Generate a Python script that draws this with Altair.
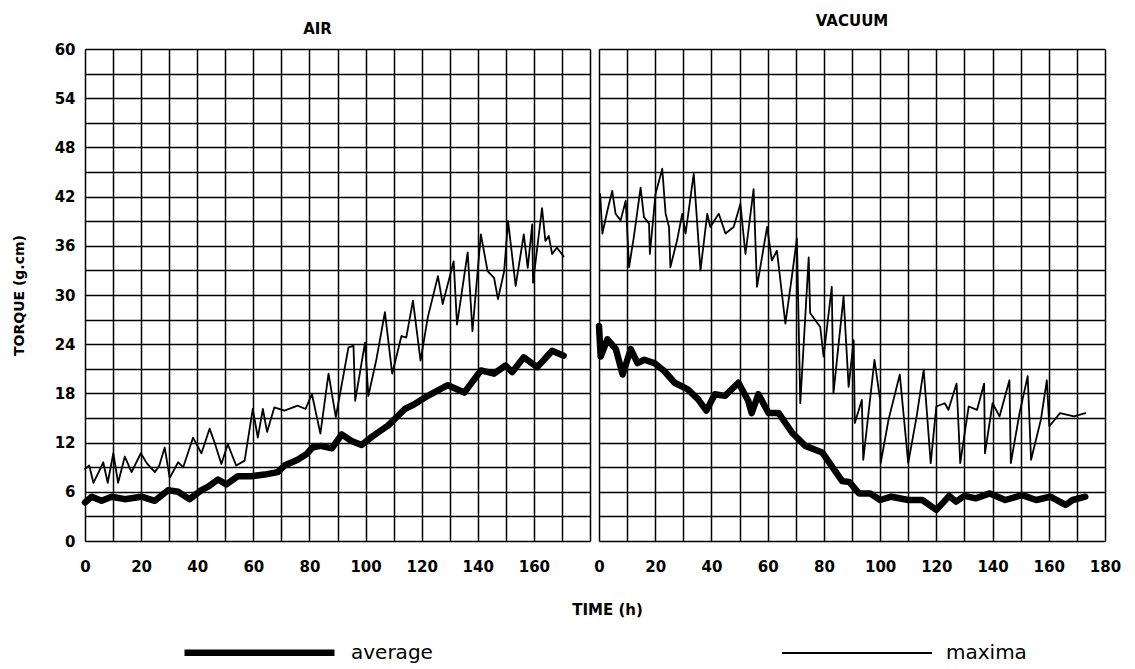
import altair as alt
import pandas as pd

# ---------------- data ----------------
air_max_t = [0, 1.5, 3.0, 5, 6.5, 8.1, 10.1, 11.8, 14.2, 16.6, 19.9, 22, 24.9, 26.5, 28.4, 30.2,
             33.2, 35.0, 38.5, 41.5, 44.4, 46.2, 48.6, 50.9, 53.9, 56.9, 59.8, 61.6, 63.4, 64.9,
             67.5, 71.1, 75.8, 78.6, 80.9, 83.9, 86.8, 89.4, 93.9, 95.7, 96.3, 99.8, 101, 103.9,
             106.9, 109.5, 112.8, 114.5, 116.9, 119.6, 122.2, 125.8, 127.5, 131.4, 132.6, 136.4,
             138.1, 141.1, 143.5, 145.8, 147.2, 149.4, 150.8, 153.5, 156.4, 157.8, 159.4, 159.7,
             162.9, 164.1, 165.3, 166.5, 168.2, 170.6]
air_max_v = [8.8, 9.2, 7.1, 8.5, 9.6, 7.1, 10.7, 7.1, 10.3, 8.4, 10.7, 9.5, 8.4, 9.2, 11.4, 7.7,
             9.6, 9.0, 12.6, 10.7, 13.7, 12.0, 9.4, 11.8, 9.2, 9.8, 16.1, 12.6, 16.1, 13.3,
             16.3, 15.9, 16.5, 16.1, 17.9, 13.1, 20.4, 15.1, 23.6, 23.8, 17.1, 24.2, 17.7, 22.2,
             27.9, 20.4, 25.0, 24.8, 29.3, 22.0, 27.3, 32.3, 28.9, 34.1, 26.4, 35.2,
             25.6, 37.4, 32.9, 32.1, 29.5, 32.9, 39.0, 31.1, 37.4, 33.3, 38.6, 31.5,
             40.6, 36.6, 37.2, 35.0, 35.8, 34.7]

air_avg_t = [0, 2.4, 5.9, 9.5, 14.2, 20.1, 24.9, 29.6, 33.2, 37.3, 41.5, 43.8, 47.4, 50.4, 54.5,
             59.2, 64.0, 68.7, 71.1, 75.8, 79, 81, 84, 88, 91.5, 95, 98.6, 102.2, 108.1, 114,
             117.5, 122.2, 129.3, 135.2, 141.1, 145.8, 149.9, 152.3, 156.4, 161.2, 166.5, 170.6]
air_avg_v = [4.7, 5.4, 4.9, 5.4, 5.1, 5.4, 4.9, 6.2, 6.0, 5.1, 6.2, 6.6, 7.5, 6.9, 7.9,
             7.9, 8.1, 8.4, 9.2, 9.9, 10.6, 11.4, 11.6, 11.3, 13.0, 12.2, 11.7, 12.7, 14.1, 16.1,
             16.7, 17.7, 19.0, 18.1, 20.8, 20.4, 21.4, 20.6, 22.4, 21.2, 23.2, 22.6]

vac_max_t = [0.4, 1.2, 3.0, 4.7, 5.9, 7.7, 9.5, 10.7, 12.4, 14.8, 16.0, 17.8, 18.1, 20.1, 22.5,
             23.7, 24.9, 25.4, 27.8, 29.6, 30.8, 33.7, 36.1, 38.5, 39.6, 42.6, 45.0, 47.9, 50.3,
             52.1, 55.0, 56.2, 59.8, 61.5, 63.3, 66.3, 68.6, 70.4, 71.6, 74.6, 75.1, 78.7, 79.9,
             82.8, 83.4, 87.0, 88.8, 90.6, 91, 93.5, 94, 98, 100, 100.2, 103, 107, 110, 113,
             115.5, 118, 120, 123, 124.3, 127.2, 128.5, 131.5, 134.5, 137, 137.3, 140, 142.5,
             146, 146.5, 149.6, 152.5, 153.7, 157.2, 159.3, 160.2, 164, 169, 173]
vac_max_v = [42.3, 37.5, 40.3, 42.7, 39.9, 39.1, 41.5, 33.4, 37.1, 43.1, 39.5, 38.7, 35.0, 42.3, 45.4,
             39.9, 38.3, 33.4, 36.7, 39.9, 37.5, 44.8, 33.0, 39.9, 38.3, 39.9, 37.5, 38.3, 41.1,
             35.0, 42.9, 31.0, 38.3, 34.2, 35.4, 26.5, 32.2, 36.9, 16.8, 34.6, 27.8, 26.1, 22.5,
             31.0, 18.0, 29.8, 18.8, 24.5, 14.4, 17.2, 9.9, 22.1, 17.2, 9.5, 14.8, 20.3, 9.5, 15.2,
             20.9, 9.5, 16.4, 16.8, 16.0, 19.2, 9.5, 16.4, 16.0, 19.2, 10.7, 16.8, 15.2,
             19.6, 9.5, 15.6, 20.1, 9.9, 14.8, 19.6, 14.0, 15.6, 15.2, 15.6]

vac_avg_t = [0, 0.6, 3.0, 6.0, 8.4, 11.3, 13.7, 16.1, 19.7, 23.3, 26.9, 31.6, 35.2, 38.2, 41.2,
             44.8, 49.6, 53.1, 54.3, 56.7, 60.3, 63.9, 68.7, 73.4, 79.4, 86.5, 89, 92.5, 96.5,
             100, 104, 110, 115, 120, 124.6, 127, 130, 134, 139, 144.5, 150.5, 155.5, 160.5,
             166, 168.5, 173]
vac_avg_v = [26.2, 22.5, 24.6, 23.4, 20.3, 23.4, 21.7, 22.1, 21.7, 20.7, 19.3, 18.5, 17.3, 15.9, 17.9,
             17.7, 19.3, 17.1, 15.6, 17.9, 15.6, 15.6, 13.2, 11.6, 10.8, 7.3, 7.2, 5.8, 5.8,
             5.0, 5.4, 5.0, 5.0, 3.8, 5.5, 4.8, 5.5, 5.2, 5.8, 5.0, 5.6, 5.0, 5.4,
             4.4, 5.0, 5.4]

panels = ["AIR", "VACUUM"]
series = ["average", "maxima"]
x_ticks = list(range(0, 181, 10))
y_ticks = list(range(0, 61, 3))


def frame(t, v, s, p):
    return pd.DataFrame({"time": t, "torque": v, "series": s, "panel": p})


air_df = pd.concat([frame(air_avg_t, air_avg_v, "average", "AIR"),
                    frame(air_max_t, air_max_v, "maxima", "AIR")])
vac_df = pd.concat([frame(vac_avg_t, vac_avg_v, "average", "VACUUM"),
                    frame(vac_max_t, vac_max_v, "maxima", "VACUUM")])

FONT = "DejaVu Sans"
W_L, W_R, H = 505, 506, 492

sw_scale = alt.Scale(domain=series, range=[6.5, 1.8])
# long horizontal stroke symbol (path scaled by sqrt(size)/2)
legend = alt.Legend(
    orient="none", legendX=156, legendY=585, direction="horizontal", title=None,
    symbolType="M-5,0H5", symbolSize=900, symbolStrokeColor="black",
    symbolFillColor="transparent",
    labelFont=FONT, labelFontSize=20, labelColor="black", labelOffset=73,
    columnPadding=345,
)


def panel(df, title, title_offset, title_dx, left):
    xaxis = alt.Axis(
        values=x_ticks,
        labelExpr=("datum.value % 20 == 0 && datum.value <= 160 ? datum.label : ''" if left
                   else "datum.value % 20 == 0 ? datum.label : ''"),
        grid=True, gridColor="black", gridWidth=1.5, gridOpacity=1,
        ticks=False, tickSize=0, domain=False,
        labelFont=FONT, labelFontSize=15, labelFontWeight="bold", labelColor="black",
        labelPadding=18, labelFlush=False,
        title=("TIME (h)" if left else None),
        **({"titleX": 522, "titleY": 68, "titleAlign": "center", "titleBaseline": "middle",
            "titleFont": FONT, "titleFontSize": 15, "titleFontWeight": "bold",
            "titleColor": "black"} if left else {}),
    )
    yaxis = alt.Axis(
        values=y_ticks,
        labelExpr="datum.value % 6 == 0 ? datum.label : ''",
        grid=True, gridColor="black", gridWidth=1.5, gridOpacity=1,
        ticks=False, tickSize=0, domain=False,
        labels=left,
        labelFont=FONT, labelFontSize=15, labelFontWeight="bold", labelColor="black",
        labelPadding=10,
        title=("TORQUE  (g.cm)" if left else None),
        **({"titleFont": FONT, "titleFontSize": 14, "titleFontWeight": "bold",
            "titleColor": "black", "titlePadding": 28} if left else {}),
    )
    return alt.Chart(df).mark_line(color="black", strokeCap="round", strokeJoin="round").encode(
        x=alt.X("time:Q", scale=alt.Scale(domain=[0, 180], nice=False, zero=False), axis=xaxis),
        y=alt.Y("torque:Q", scale=alt.Scale(domain=[0, 60], nice=False), axis=yaxis),
        strokeWidth=alt.StrokeWidth("series:N", scale=sw_scale, legend=legend),
        detail="series:N",
    ).properties(
        width=W_L if left else W_R, height=H,
        title=alt.TitleParams(title, offset=title_offset, dx=title_dx, anchor="middle",
                              font=FONT, fontSize=15, fontWeight="bold", color="black"),
    )


left = panel(air_df, "AIR", 5, -20, True)
right = panel(vac_df, "VACUUM", 20, 0, False)

chart = alt.hconcat(left, right, spacing=9, bounds="flush").properties(
    padding={"left": 3, "top": 5, "right": 5, "bottom": 5}
).configure_view(
    stroke="black", strokeWidth=2
).configure(background="white")

chart.save("out.html", embed_options={"renderer": "svg", "actions": False})
